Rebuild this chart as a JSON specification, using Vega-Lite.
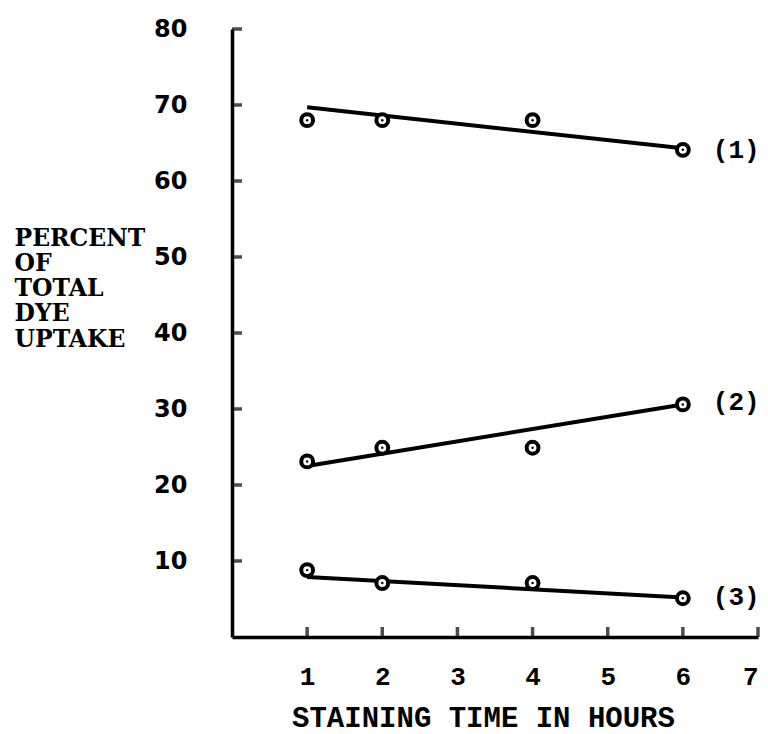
{
  "$schema": "https://vega.github.io/schema/vega-lite/v6.json",
  "width": 526,
  "height": 608,
  "autosize": "none",
  "padding": {"left": 232, "top": 29, "right": 10, "bottom": 97},
  "background": "white",
  "config": {"view": {"stroke": null}},
  "datasets": {
    "points": [
      {"series": "1", "hours": 1, "percent": 68.0},
      {"series": "1", "hours": 2, "percent": 68.0},
      {"series": "1", "hours": 4, "percent": 68.0},
      {"series": "1", "hours": 6, "percent": 64.1},
      {"series": "2", "hours": 1, "percent": 23.1},
      {"series": "2", "hours": 2, "percent": 24.9},
      {"series": "2", "hours": 4, "percent": 24.9},
      {"series": "2", "hours": 6, "percent": 30.6},
      {"series": "3", "hours": 1, "percent": 8.8},
      {"series": "3", "hours": 2, "percent": 7.1},
      {"series": "3", "hours": 4, "percent": 7.1},
      {"series": "3", "hours": 6, "percent": 5.1}
    ],
    "fits": [
      {"series": "1", "hours": 1, "percent": 69.7},
      {"series": "1", "hours": 6, "percent": 64.3},
      {"series": "2", "hours": 1, "percent": 22.5},
      {"series": "2", "hours": 6, "percent": 30.6},
      {"series": "3", "hours": 1, "percent": 7.9},
      {"series": "3", "hours": 6, "percent": 5.2}
    ],
    "labels": [
      {"label": "(1)", "hours": 6, "percent": 64.1},
      {"label": "(2)", "hours": 6, "percent": 30.9},
      {"label": "(3)", "hours": 6, "percent": 5.3}
    ],
    "xticks": [
      {"hours": 1, "percent": 0},
      {"hours": 2, "percent": 0},
      {"hours": 3, "percent": 0},
      {"hours": 4, "percent": 0},
      {"hours": 5, "percent": 0},
      {"hours": 6, "percent": 0},
      {"hours": 7, "percent": 0}
    ],
    "yticks": [
      {"percent": 10, "hours": 0},
      {"percent": 20, "hours": 0},
      {"percent": 30, "hours": 0},
      {"percent": 40, "hours": 0},
      {"percent": 50, "hours": 0},
      {"percent": 60, "hours": 0},
      {"percent": 70, "hours": 0},
      {"percent": 80, "hours": 0}
    ]
  },
  "encoding": {
    "x": {
      "field": "hours", "type": "quantitative",
      "scale": {"domain": [0, 7], "nice": false},
      "axis": {
        "values": [1, 2, 3, 4, 5, 6, 7],
        "format": "d",
        "grid": false,
        "ticks": false,
        "domainColor": "black", "domainWidth": 3.5,
        "labelFont": "Liberation Mono", "labelFontWeight": "bold", "labelFontSize": 26,
        "labelColor": "black", "labelPadding": 39, "labelBaseline": "middle",
        "title": "STAINING TIME IN HOURS",
        "titleFont": "Liberation Mono", "titleFontWeight": "bold", "titleFontSize": 29,
        "titleColor": "black", "titleX": 251, "titleY": 80, "titleBaseline": "middle"
      }
    },
    "y": {
      "field": "percent", "type": "quantitative",
      "scale": {"domain": [0, 80], "nice": false},
      "axis": {
        "values": [10, 20, 30, 40, 50, 60, 70, 80],
        "grid": false,
        "ticks": false,
        "domainColor": "black", "domainWidth": 3.5,
        "labelFont": "DejaVu Sans", "labelFontWeight": "bold", "labelFontSize": 24,
        "labelColor": "black", "labelPadding": 45,
        "title": ["PERCENT", "OF", "TOTAL", "DYE", "UPTAKE"],
        "titleFont": "DejaVu Serif", "titleFontWeight": "bold", "titleFontSize": 23.5,
        "titleLineHeight": 25.3,
        "titleColor": "black", "titleAngle": 0, "titleAlign": "left",
        "titleBaseline": "top", "titleX": -218, "titleY": 197
      }
    }
  },
  "layer": [
    {
      "data": {"name": "fits"},
      "mark": {"type": "line", "color": "black", "strokeWidth": 4},
      "encoding": {"detail": {"field": "series"}}
    },
    {
      "data": {"name": "xticks"},
      "mark": {"type": "tick", "orient": "vertical", "color": "black", "thickness": 3.5, "size": 10, "yOffset": -5}
    },
    {
      "data": {"name": "yticks"},
      "mark": {"type": "tick", "orient": "horizontal", "color": "black", "thickness": 3.5, "size": 10, "xOffset": 5}
    },
    {
      "data": {"name": "points"},
      "mark": {"type": "point", "shape": "circle", "filled": false, "fill": "white", "fillOpacity": 1, "stroke": "black", "strokeWidth": 4, "size": 140, "opacity": 1}
    },
    {
      "data": {"name": "points"},
      "mark": {"type": "point", "shape": "circle", "filled": true, "color": "black", "size": 6, "opacity": 1}
    },
    {
      "data": {"name": "labels"},
      "mark": {"type": "text", "align": "left", "baseline": "middle", "dx": 30, "font": "Liberation Mono", "fontWeight": "bold", "fontSize": 26, "color": "black"},
      "encoding": {"text": {"field": "label"}}
    }
  ]
}
